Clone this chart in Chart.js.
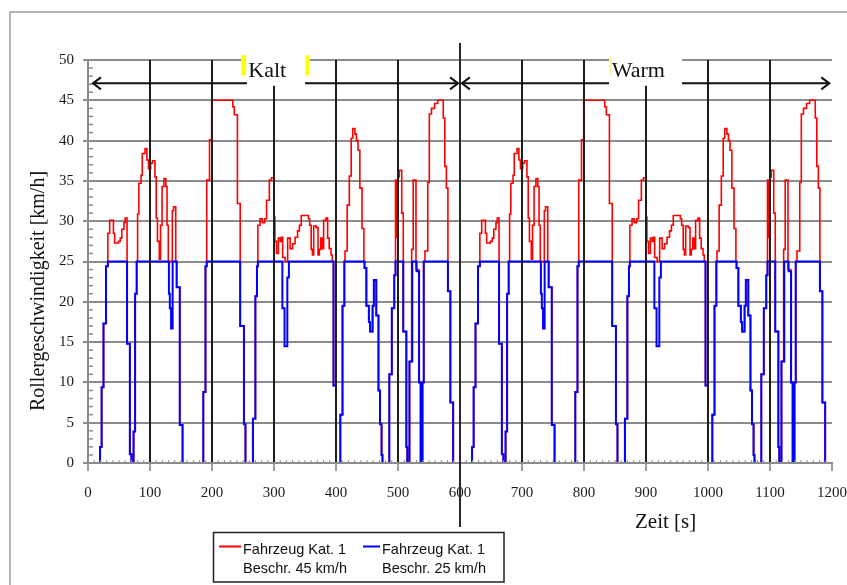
<!DOCTYPE html>
<html>
<head>
<meta charset="utf-8">
<script src="https://cdn.jsdelivr.net/npm/chart.js@4.4.0/dist/chart.umd.min.js"></script>
<style>
  html, body { margin: 0; padding: 0; background: #ffffff; }
  #wrap { width: 847px; height: 585px; position: relative; }
</style>
</head>
<body>
<div id="wrap"><canvas id="c" width="847" height="585"></canvas></div>
<script>
// One 600 s test cycle (time in s, roller speed in km/h); it is run twice: cold start, then warm.
const cycleTime45 = [0, 19.5, 22, 25, 29, 32, 35, 41, 43, 49, 52, 54.5, 58, 60, 63, 67.5, 70, 73.5, 76, 78.5,
  80, 82, 85.5, 87.5, 92, 95, 97.5, 101, 104, 108, 110, 112, 115, 117, 119.5, 122.5, 125.5, 127.5, 129.5,
  136, 138, 141.5, 143, 148, 152.5, 186, 189.5, 191.5, 196, 199.5, 233.5, 236, 241, 245.5, 251.5, 254,
  266, 270, 272.5, 274, 277.5, 281, 285, 288, 292.5, 296, 300, 301.5, 304, 307, 310, 312, 314, 318, 322,
  326, 330, 334, 338, 341, 344, 355.5, 357.5, 360, 362, 364, 368, 371, 373, 375.5, 378, 380, 384, 386.5,
  389, 392, 394, 396, 400, 407, 410.5, 413.5, 414.5, 418, 421.5, 424.5, 427, 430.5, 433, 435.5, 438.5,
  442, 445, 446, 449, 453, 455, 459, 461, 465, 468.5, 471, 473.5, 475, 486, 490, 494, 496, 498.5, 500,
  502, 506, 508.5, 513.5, 515, 518.5, 522, 524.5, 529, 533.5, 536.5, 539.5, 541.5, 543.5, 548, 550.5,
  554, 559, 564, 573, 575.5, 578, 580.5, 584.5, 589, 600];
const cycleSpeed45 = [0, 2, 9.4, 17.3, 24.4, 28.5, 30.1, 28.5, 27.3, 27.5, 27.9, 29, 29.8, 30.4, 14.8, 1.1, 0, 3.9, 21, 25,
  30.9, 34.7, 35.7, 38.4, 39, 37.6, 36.5, 37.2, 37.5, 35.5, 30.4, 27.5, 25.3, 29.5, 34.3, 35.3, 34.3, 29.5, 25,
  31.3, 31.8, 25, 21.8, 4.7, 0, 8.8, 24.4, 35.1, 40.1, 45, 44.2, 43.2, 32.2, 17, 4.8, 0,
  5.5, 20.7, 24.4, 29.5, 30.3, 29.8, 30.3, 32.6, 35.1, 35.4, 30.5, 27.5, 26, 27.9, 27.5, 28, 25.5, 25, 27.9,
  26.6, 27.2, 28, 28.8, 29.5, 30.7, 30.3, 29.5, 26.5, 25.8, 29.4, 29.2, 25.8, 26.5, 27.9, 26.6, 30.1, 30.4, 27.9,
  26.6, 25.8, 25, 9.6, 0, 6, 19.5, 25, 26.3, 32, 35.6, 40.3, 41.5, 40.8, 40, 38.8, 34.1,
  29.1, 25, 24.2, 19.5, 17.5, 16.3, 19.5, 22.7, 18.3, 9, 4.8, 1, 0, 11, 19.2, 23.3, 35.1, 28, 35.5,
  36.3, 31, 16.3, 2, 0, 12.6, 26.5, 35.1, 24, 10, 0, 10, 25, 26.3, 34.8, 43.3,
  44, 44.6, 45, 42.8, 36.8, 34.1, 21.3, 7.5, 0, 0];

const cycleTime25 = [0, 19.5, 22, 25, 29, 32, 63, 67.5, 70, 73.5, 76, 78.5, 130.5, 132, 134, 136.5, 143, 148,
  152.5, 186, 189.5, 191.5, 245.5, 251.5, 254, 266, 270, 272.5, 274, 313.5, 317, 321.5, 324, 396, 400,
  407, 410.5, 413.5, 446, 449, 453, 455, 459, 461, 465, 468.5, 471, 473.5, 475, 486, 490, 494, 496,
  508.5, 513.5, 515, 518.5, 523, 530, 534, 536.5, 539.5, 541.5, 580.5, 584.5, 589, 600];
const cycleSpeed25 = [0, 2, 9.4, 17.3, 24.4, 25, 14.8, 1.1, 0, 3.9, 21, 25, 21, 19.2, 16.7, 25, 21.8, 4.7,
  0, 8.8, 24.4, 25, 17, 4.8, 0, 5.5, 20.7, 24.4, 25, 19.2, 14.5, 23, 25, 9.6, 0,
  6, 19.5, 25, 24.2, 19.5, 17.5, 16.3, 19.5, 22.7, 18.3, 9, 4.8, 1, 0, 11, 19.2, 23.3, 25,
  16.3, 2, 0, 12.6, 25, 23.8, 10, 0, 10, 25, 21.3, 7.5, 0, 0];

const phaseStarts = [0, 600];          // Kalt, Warm
const phaseNames = ['Kalt', 'Warm'];
const seriesNames = [
  ['Fahrzeug Kat. 1', 'Beschr. 45 km/h'],
  ['Fahrzeug Kat. 1', 'Beschr. 25 km/h']
];
const seriesColors = ['#ff0000', '#0000ff'];

function buildSeries(times, speeds) {
  const pts = [];
  phaseStarts.forEach(start => {
    times.forEach((t, i) => pts.push({ x: start + t, y: speeds[i] }));
  });
  return pts;
}

const serif = "'Liberation Serif', 'Times New Roman', serif";
const sans = "'Liberation Sans', Arial, sans-serif";

function seg(ctx, x1, y1, x2, y2) {
  ctx.beginPath(); ctx.moveTo(x1, y1); ctx.lineTo(x2, y2); ctx.stroke();
}
function chevron(ctx, tipX, tipY, dir) {
  ctx.beginPath();
  ctx.moveTo(tipX - dir * 8, tipY - 6);
  ctx.lineTo(tipX, tipY);
  ctx.lineTo(tipX - dir * 8, tipY + 6);
  ctx.stroke();
}

const decor = {
  id: 'decor',
  afterDraw(chart) {
    const { ctx, chartArea: a, scales: { x, y } } = chart;
    ctx.save();

    // outer frame (left and top edges)
    ctx.strokeStyle = '#9a9a9a'; ctx.lineWidth = 1.5;
    ctx.beginPath();
    ctx.moveTo(10, 590); ctx.lineTo(10, 12); ctx.lineTo(850, 12);
    ctx.stroke();

    // minor ticks on the speed axis (inside) and on the time axis
    ctx.strokeStyle = '#8c8c8c'; ctx.lineWidth = 1.5;
    for (let v = 1; v < 50; v++) {
      if (v % 5 === 0) continue;
      const py = y.getPixelForValue(v);
      seg(ctx, a.left, py, a.left + 5, py);
    }
    ctx.lineWidth = 1;
    for (let t = 10; t < 1200; t += 10) {
      if (t % 100 === 0) continue;
      const px = x.getPixelForValue(t);
      seg(ctx, px, a.bottom - 3, px, a.bottom);
    }

    // divider between the cold and the warm phase
    const xMid = x.getPixelForValue(600);
    ctx.strokeStyle = '#2a2a2a'; ctx.lineWidth = 2;
    seg(ctx, xMid, a.top - 17, xMid, a.bottom + 64);

    // phase arrows
    const ya = y.getPixelForValue(47.1);
    ctx.strokeStyle = '#111111'; ctx.lineWidth = 2;
    const spans = [[8, 596.8], [603, 1195.6]];
    spans.forEach(([t0, t1]) => {
      const x0 = x.getPixelForValue(t0), x1 = x.getPixelForValue(t1);
      seg(ctx, x0, ya, x1, ya);
      chevron(ctx, x0, ya, -1);
      chevron(ctx, x1, ya, 1);
    });

    // phase labels on white boxes
    const boxes = [
      { t0: 246.8, t1: 358, tb0: 256.5, tb1: 350, tText: 258.5 },
      { t0: 840.3, t1: 958, tb0: 840.3, tb1: 958, tText: 844.7 }
    ];
    const yTop = y.getPixelForValue(50.9), yMidB = y.getPixelForValue(47.8), yBot = y.getPixelForValue(46.8);
    boxes.forEach((b, i) => {
      ctx.fillStyle = '#ffffff';
      const bx0 = x.getPixelForValue(b.t0), bx1 = x.getPixelForValue(b.t1);
      ctx.fillRect(bx0, yTop, bx1 - bx0, yMidB - yTop);
      const cx0 = x.getPixelForValue(b.tb0), cx1 = x.getPixelForValue(b.tb1);
      ctx.fillRect(cx0, yMidB - 1, cx1 - cx0, yBot - yMidB + 1);
      ctx.fillStyle = '#111111';
      ctx.font = '22px ' + serif;
      ctx.textBaseline = 'alphabetic'; ctx.textAlign = 'left';
      ctx.fillText(phaseNames[i], x.getPixelForValue(b.tText), y.getPixelForValue(48.0) + 0.5);
    });
    // yellow edge marks of the cold label box
    const yy0 = y.getPixelForValue(50.6), yy1 = y.getPixelForValue(48.1);
    ctx.fillStyle = '#ffff00';
    let m0 = x.getPixelForValue(247.5), m1 = x.getPixelForValue(255);
    ctx.fillRect(m0, yy0, m1 - m0, yy1 - yy0);
    m0 = x.getPixelForValue(351); m1 = x.getPixelForValue(357);
    ctx.fillRect(m0, yy0, m1 - m0, yy1 - yy0);
    ctx.fillStyle = '#f2ee8a';
    m0 = x.getPixelForValue(841.5);
    ctx.fillRect(m0, y.getPixelForValue(50.4), 1.5, yy1 - y.getPixelForValue(50.4));

    // axis titles
    ctx.fillStyle = '#111111';
    ctx.font = '20px ' + serif;
    ctx.save();
    ctx.translate(44, 291);
    ctx.rotate(-Math.PI / 2);
    ctx.textAlign = 'center'; ctx.textBaseline = 'alphabetic';
    ctx.fillText('Rollergeschwindigkeit [km/h]', 0, 0);
    ctx.restore();
    ctx.font = '21px ' + serif;
    ctx.textAlign = 'left'; ctx.textBaseline = 'alphabetic';
    ctx.fillText('Zeit [s]', 635, 528);

    // legend
    ctx.strokeStyle = '#222222'; ctx.lineWidth = 1.5;
    ctx.fillStyle = '#ffffff';
    ctx.fillRect(213.5, 532.5, 290.5, 49.5);
    ctx.strokeRect(213.5, 532.5, 290.5, 49.5);
    const items = [{ lx0: 219, lx1: 241, tx: 243 }, { lx0: 363, lx1: 380, tx: 382 }];
    items.forEach((it, i) => {
      ctx.strokeStyle = seriesColors[i]; ctx.lineWidth = 2;
      seg(ctx, it.lx0, 546.5, it.lx1, 546.5);
      ctx.fillStyle = '#111111';
      ctx.font = '14.5px ' + sans;
      ctx.textAlign = 'left'; ctx.textBaseline = 'alphabetic';
      ctx.fillText(seriesNames[i][0], it.tx, 554);
      ctx.fillText(seriesNames[i][1], it.tx, 573);
    });

    ctx.restore();
  }
};

new Chart(document.getElementById('c'), {
  type: 'line',
  data: {
    datasets: [
      { label: seriesNames[0].join(' '), data: buildSeries(cycleTime45, cycleSpeed45),
        borderColor: seriesColors[0], borderWidth: 1.6, pointRadius: 0, stepped: 'before', order: 2 },
      { label: seriesNames[1].join(' '), data: buildSeries(cycleTime25, cycleSpeed25),
        borderColor: seriesColors[1], borderWidth: 2, pointRadius: 0, stepped: 'before', order: 1 }
    ]
  },
  options: {
    responsive: false,
    animation: false,
    events: [],
    layout: { padding: { left: 0, right: 0, top: 60, bottom: 0 } },
    plugins: { legend: { display: false }, tooltip: { enabled: false } },
    scales: {
      x: {
        type: 'linear', min: 0, max: 1200,
        afterFit: s => { s.height = 122; s.paddingRight = 15; s.paddingLeft = 0; },
        ticks: { stepSize: 100, padding: 13, maxRotation: 0, autoSkip: false,
                 callback: v => String(v),
                 color: '#1a1a1a', font: { family: serif, size: 15 } },
        grid: { z: 1, lineWidth: 2, tickLength: 8, tickColor: '#7f7f7f', tickWidth: 1.5,
                color: c => (c.tick && (c.tick.value === 0 || c.tick.value === 1200)) ? 'rgba(0,0,0,0)' : '#1e1e1e' },
        border: { z: 1, color: '#8c8c8c', width: 2 }
      },
      y: {
        min: 0, max: 50,
        afterFit: s => { s.width = 88; },
        ticks: { stepSize: 5, padding: 9, color: '#1a1a1a', font: { family: serif, size: 15 } },
        grid: { color: '#8c8c8c', lineWidth: 2, tickLength: 5, tickColor: '#8c8c8c' },
        border: { color: '#8c8c8c', width: 2 }
      }
    }
  },
  plugins: [decor]
});
</script>
</body>
</html>
